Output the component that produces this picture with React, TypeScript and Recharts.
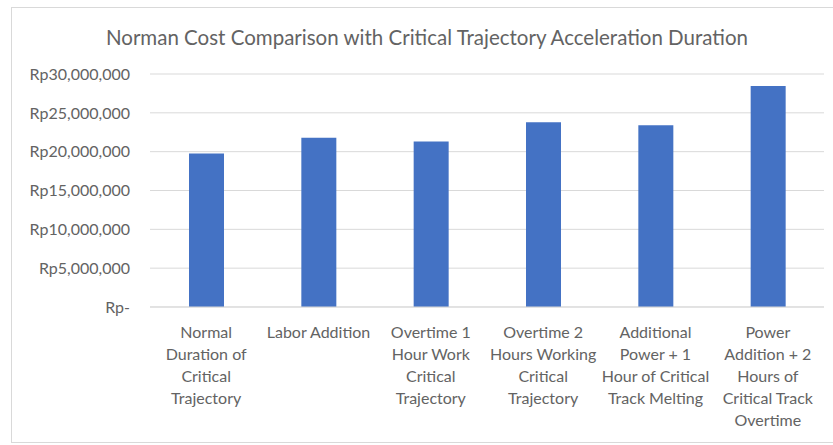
import { BarChart, Bar, XAxis, YAxis, CartesianGrid } from "recharts";

const categories = [
  "Normal Duration of Critical Trajectory",
  "Labor Addition",
  "Overtime 1 Hour Work Critical Trajectory",
  "Overtime 2 Hours Working Critical Trajectory",
  "Additional Power + 1 Hour of Critical Track Melting",
  "Power Addition + 2 Hours of Critical Track Overtime",
];

const labelLines = [
  ["Normal", "Duration of", "Critical", "Trajectory"],
  ["Labor Addition"],
  ["Overtime 1", "Hour Work", "Critical", "Trajectory"],
  ["Overtime 2", "Hours Working", "Critical", "Trajectory"],
  ["Additional", "Power + 1", "Hour of Critical", "Track Melting"],
  ["Power", "Addition + 2", "Hours of", "Critical Track", "Overtime"],
];

const costs = [19750000, 21800000, 21300000, 23800000, 23400000, 28450000];

const yTicks = [0, 5000000, 10000000, 15000000, 20000000, 25000000, 30000000];

const data = categories.map((name, i) => ({ name, cost: costs[i] }));

const FONT = "Lato, 'Open Sans', sans-serif";
const TEXT = "#636363";

const formatRp = (v: number) => (v === 0 ? "Rp-" : "Rp" + v.toLocaleString("en-US"));

const CategoryTick = ({ x, y, index }: any) => {
  const lines = labelLines[index] || [];
  return (
    <text x={x} y={y} textAnchor="middle" fill={TEXT} fontFamily={FONT} fontSize={16}>
      {lines.map((l, i) => (
        <tspan key={i} x={x} dy={i === 0 ? 31 : 22}>
          {l}
        </tspan>
      ))}
    </text>
  );
};

const App = () => {
  return (
    <div
      style={{
        position: "absolute",
        left: 0,
        top: 0,
        width: 833,
        height: 445,
        overflow: "hidden",
        background: "#fff",
      }}
    >
      <div
        style={{
          position: "absolute",
          left: 11,
          top: 7,
          width: 840,
          height: 436,
          border: "1px solid #d9d9d9",
          boxSizing: "border-box",
        }}
      />
      <div
        style={{
          position: "absolute",
          left: 0,
          width: 854,
          top: 22,
          textAlign: "center",
          fontFamily: FONT,
          fontSize: 20.5,
          color: TEXT,
          lineHeight: "30px",
        }}
      >
        Norman Cost Comparison with Critical Trajectory Acceleration Duration
      </div>
      <div style={{ position: "absolute", left: 0, top: 0 }}>
        <BarChart
          width={833}
          height={445}
          data={data}
          margin={{ top: 74, right: 9, bottom: 0, left: 0 }}
        >
          <CartesianGrid vertical={false} stroke="#d9d9d9" strokeWidth={1} />
          <XAxis
            dataKey="name"
            height={138}
            interval={0}
            tickLine={false}
            tickSize={0}
            tickMargin={0}
            axisLine={{ stroke: "#d9d9d9" }}
            tick={<CategoryTick />}
          />
          <YAxis
            width={150}
            domain={[0, 30000000]}
            ticks={yTicks}
            interval={0}
            axisLine={false}
            tickLine={false}
            tickSize={6}
            tickMargin={14}
            tickFormatter={formatRp}
            tick={{ fill: TEXT, fontFamily: FONT, fontSize: 16 }}
          />
          <Bar dataKey="cost" fill="#4472c4" barSize={35} isAnimationActive={false} />
        </BarChart>
      </div>
    </div>
  );
};

export default App;
